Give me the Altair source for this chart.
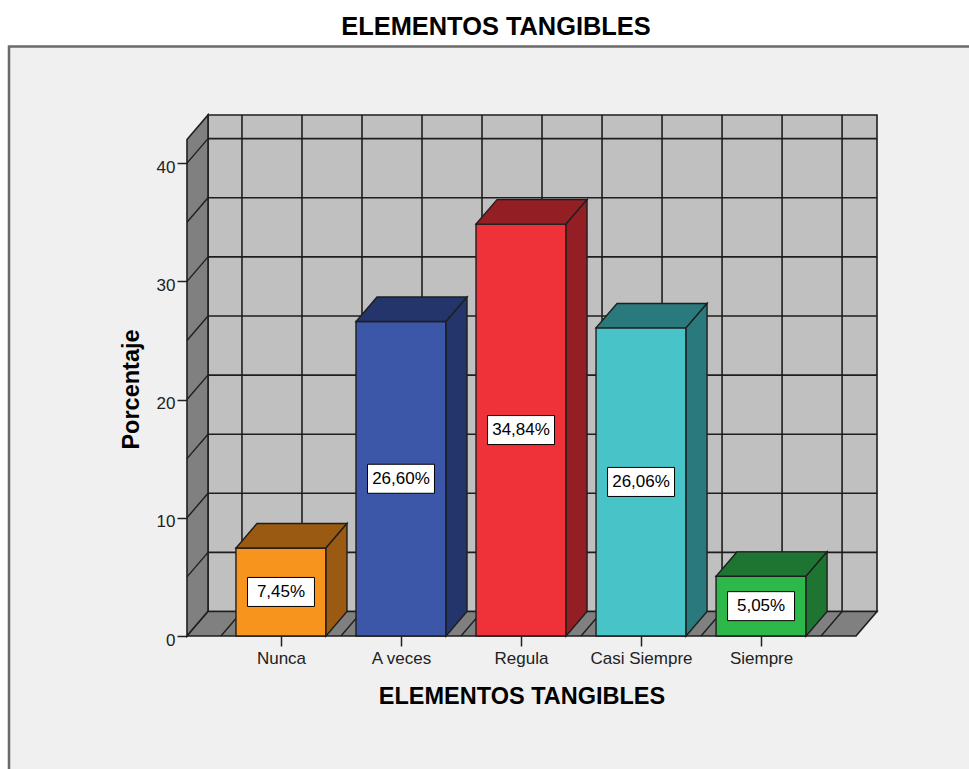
import json

import altair as alt
import pandas as pd

# ---- data -------------------------------------------------------------
categories = ["Nunca", "A veces", "Regula", "Casi Siempre", "Siempre"]
percentages = [7.45, 26.60, 34.84, 26.06, 5.05]
y_ticks = [0, 10, 20, 30, 40]

# ---- styling ----------------------------------------------------------
face_colors = ["#F7941D", "#3C56A8", "#EF323A", "#48C3C8", "#2DB84A"]
shade_colors = ["#9A5A12", "#24356B", "#931E24", "#2A797C", "#1E7431"]
BACK_WALL = "#C0C0C0"
SIDE_WALL = "#808080"
PANEL_BG = "#F0F0F0"
LINE = "#1E1E1E"
FONT = "Liberation Sans"

# 3D box geometry, in data units of the x (category index) and y (percent) scales
DEPTH_X = 0.175
DEPTH_Y = 2.07
FRONT_LEFT = -0.783
FRONT_RIGHT = 4.791
Y_TOP = 42
BAR_HALF = 0.375
GRID_STEP = 5
LABEL_HALF_W = 0.279
LABEL_HALF_H = 1.227

W, H = 690, 521
PAD = {"left": 187, "top": 115, "right": 969 - 187 - W, "bottom": 769 - 115 - H}

BACK_LEFT = FRONT_LEFT + DEPTH_X
BACK_RIGHT = FRONT_RIGHT + DEPTH_X

# ---- derived tables ---------------------------------------------------
back_wall = pd.DataFrame([{"x": BACK_LEFT, "x2": BACK_RIGHT, "y": DEPTH_Y, "y2": Y_TOP + DEPTH_Y}])

left_wall = pd.DataFrame([
    {"x": FRONT_LEFT, "y": 0, "y2": Y_TOP},
    {"x": BACK_LEFT, "y": DEPTH_Y, "y2": Y_TOP + DEPTH_Y},
])

floor = pd.DataFrame([
    {"y": 0, "x": FRONT_LEFT, "x2": FRONT_RIGHT},
    {"y": DEPTH_Y, "x": BACK_LEFT, "x2": BACK_RIGHT},
])

levels = list(range(GRID_STEP, Y_TOP, GRID_STEP))
back_h_grid = pd.DataFrame([{"x": BACK_LEFT, "x2": BACK_RIGHT, "y": v + DEPTH_Y} for v in levels])
wall_diag = pd.DataFrame([
    {"x": FRONT_LEFT, "y": v, "x2": BACK_LEFT, "y2": v + DEPTH_Y} for v in levels
])

grid_x = [-0.5 + 0.5 * k + DEPTH_X for k in range(2 * len(categories) + 1)]
back_v_grid = pd.DataFrame([{"x": g, "y": DEPTH_Y, "y2": Y_TOP + DEPTH_Y} for g in grid_x])
floor_diag = pd.DataFrame([{"x": g - DEPTH_X, "y": 0, "x2": g, "y2": DEPTH_Y} for g in grid_x])

fronts, tops, sides, labels = [], [], [], []
for i, (cat, v) in enumerate(zip(categories, percentages)):
    fronts.append({"cat": cat, "x": i - BAR_HALF, "x2": i + BAR_HALF, "y": 0, "y2": v,
                   "fill": face_colors[i]})
    tops.append({"cat": cat, "y": v, "x": i - BAR_HALF, "x2": i + BAR_HALF, "fill": shade_colors[i]})
    tops.append({"cat": cat, "y": v + DEPTH_Y, "x": i - BAR_HALF + DEPTH_X,
                 "x2": i + BAR_HALF + DEPTH_X, "fill": shade_colors[i]})
    sides.append({"cat": cat, "x": i + BAR_HALF, "y": 0, "y2": v, "fill": shade_colors[i]})
    sides.append({"cat": cat, "x": i + BAR_HALF + DEPTH_X, "y": DEPTH_Y, "y2": v + DEPTH_Y,
                  "fill": shade_colors[i]})
    labels.append({"cat": cat, "xc": i, "yc": v / 2,
                   "x": i - LABEL_HALF_W, "x2": i + LABEL_HALF_W,
                   "y": v / 2 - LABEL_HALF_H, "y2": v / 2 + LABEL_HALF_H,
                   "text": f"{v:.2f}".replace(".", ",") + "%"})

fronts = pd.DataFrame(fronts)
tops = pd.DataFrame(tops)
sides = pd.DataFrame(sides)
labels = pd.DataFrame(labels)
single = pd.DataFrame([{"k": 0}])

# ---- scales & axes ----------------------------------------------------
xs = alt.Scale(domain=[FRONT_LEFT, BACK_RIGHT], nice=False, zero=False)
ys = alt.Scale(domain=[0, Y_TOP + DEPTH_Y], nice=False, zero=False)

x_axis = alt.Axis(
    values=list(range(len(categories))),
    labelExpr=f"{json.dumps(categories)}[datum.value]",
    title="ELEMENTOS TANGIBLES",
    domain=False, grid=False, zindex=1,
    tickSize=10, tickWidth=1.5, tickColor="#222222",
    labelFont=FONT, labelFontSize=17, labelColor="#222222", labelPadding=4,
    titleFont=FONT, titleFontSize=23.5, titleFontWeight="bold", titleColor="#000000",
    titleX=334.5, titleY=67, titleAlign="center", titleBaseline="alphabetic",
)
y_axis = alt.Axis(
    values=y_ticks, format="d",
    title="Porcentaje",
    domain=False, grid=False, zindex=1,
    tickSize=10, tickWidth=1.5, tickColor="#222222",
    labelFont=FONT, labelFontSize=17, labelColor="#222222", labelPadding=2,
    labelOffset=4,
    titleFont=FONT, titleFontSize=23.5, titleFontWeight="bold", titleColor="#000000",
    titleX=-48.5, titleY=274, titleAngle=-90, titleAlign="center",
    titleBaseline="alphabetic",
)


def X(f="x"):
    return alt.X(f"{f}:Q", scale=xs, axis=x_axis)


def Y(f="y"):
    return alt.Y(f"{f}:Q", scale=ys, axis=y_axis)


# ---- layers -----------------------------------------------------------
panel = alt.Chart(single).mark_rect(
    fill=PANEL_BG, stroke="#6A6A6A", strokeWidth=2.5
).encode(
    x=alt.value(9 - PAD["left"]), x2=alt.value(W + 200),
    y=alt.value(46.5 - PAD["top"]), y2=alt.value(H + 300),
)

title = alt.Chart(single).mark_text(
    text="ELEMENTOS TANGIBLES", font=FONT, fontSize=25.4, fontWeight="bold",
    color="#000000", align="center", baseline="alphabetic",
).encode(x=alt.value(496 - PAD["left"]), y=alt.value(35 - PAD["top"]))

back = alt.Chart(back_wall).mark_rect(fill=BACK_WALL, stroke=LINE, strokeWidth=1.6).encode(
    x=X(), x2="x2", y=Y(), y2="y2"
)
left = alt.Chart(left_wall).mark_area(
    orient="vertical", fill=SIDE_WALL, stroke=LINE, strokeWidth=1.6
).encode(x=X(), y=Y(), y2="y2")
flo = alt.Chart(floor).mark_area(
    orient="horizontal", fill=SIDE_WALL, stroke=LINE, strokeWidth=1.6
).encode(y=Y(), x=X(), x2="x2")

h_grid = alt.Chart(back_h_grid).mark_rule(color=LINE, strokeWidth=1.6).encode(
    x=X(), x2="x2", y=Y()
)
v_grid = alt.Chart(back_v_grid).mark_rule(color=LINE, strokeWidth=1.6).encode(
    x=X(), y=Y(), y2="y2"
)
w_diag = alt.Chart(wall_diag).mark_rule(color=LINE, strokeWidth=1.4).encode(
    x=X(), x2="x2", y=Y(), y2="y2"
)
f_diag = alt.Chart(floor_diag).mark_rule(color=LINE, strokeWidth=1.4).encode(
    x=X(), x2="x2", y=Y(), y2="y2"
)

bar_front = alt.Chart(fronts).mark_rect(stroke=LINE, strokeWidth=1.4).encode(
    x=X(), x2="x2", y=Y(), y2="y2", fill=alt.Fill("fill:N", scale=None)
)
bar_top = alt.Chart(tops).mark_area(orient="horizontal", stroke=LINE, strokeWidth=1.4).encode(
    y=Y(), x=X(), x2="x2", detail="cat:N", fill=alt.Fill("fill:N", scale=None)
)
bar_side = alt.Chart(sides).mark_area(orient="vertical", stroke=LINE, strokeWidth=1.4).encode(
    x=X(), y=Y(), y2="y2", detail="cat:N", fill=alt.Fill("fill:N", scale=None)
)

label_box = alt.Chart(labels).mark_rect(fill="#FFFFFF", stroke="#000000", strokeWidth=1).encode(
    x=X(), x2="x2", y=Y(), y2="y2"
)
label_text = alt.Chart(labels).mark_text(
    font=FONT, fontSize=17, color="#000000", align="center", baseline="middle"
).encode(x=X("xc"), y=Y("yc"), text="text:N")

chart = alt.layer(
    panel, title, back, left, flo, h_grid, v_grid, w_diag, f_diag,
    bar_front, bar_top, bar_side, label_box, label_text,
).properties(
    width=W, height=H,
    autosize=alt.AutoSizeParams(type="none"),
    padding=PAD,
    background="#FFFFFF",
).configure_view(stroke=None, fill=None)

chart.save("out.html", embed_options={"renderer": "svg", "actions": False})
